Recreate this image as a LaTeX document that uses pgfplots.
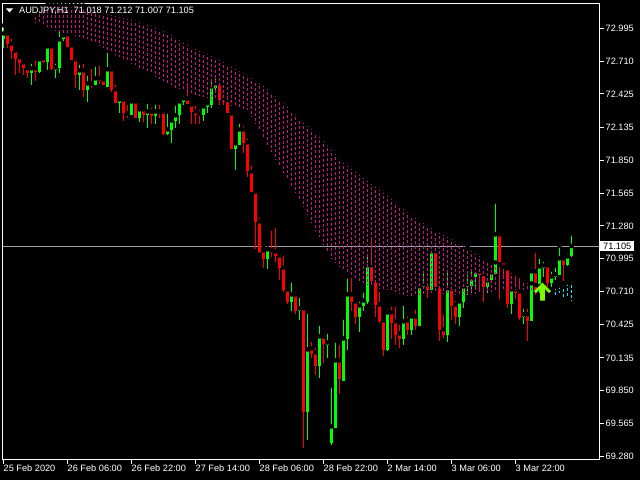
\documentclass[border=0pt]{standalone}
\usepackage{pgfplots}
\usepackage{pgfplotstable}
\pgfplotsset{compat=1.18}
\usepackage{fontspec}
\setmainfont{Liberation Sans}
\definecolor{mtgreen}{RGB}{0,255,0}
\definecolor{mtred}{RGB}{255,0,0}
\definecolor{kumo}{RGB}{199,21,133}
\definecolor{kumoup}{RGB}{0,230,255}
\definecolor{arrowgreen}{RGB}{124,252,0}
\definecolor{pricegray}{RGB}{160,160,170}

\pgfdeclareplotmark{mtarrow}{%
  \pgfpathmoveto{\pgfpoint{0bp}{9bp}}%
  \pgfpathlineto{\pgfpoint{8.5bp}{0.5bp}}%
  \pgfpathlineto{\pgfpoint{6.5bp}{-1.5bp}}%
  \pgfpathlineto{\pgfpoint{2.3bp}{2.7bp}}%
  \pgfpathlineto{\pgfpoint{2.3bp}{-9bp}}%
  \pgfpathlineto{\pgfpoint{-2.3bp}{-9bp}}%
  \pgfpathlineto{\pgfpoint{-2.3bp}{2.7bp}}%
  \pgfpathlineto{\pgfpoint{-6.5bp}{-1.5bp}}%
  \pgfpathlineto{\pgfpoint{-8.5bp}{0.5bp}}%
  \pgfpathclose
  \pgfusepathqfill
}

\pgfplotstableread{
k o h l c
0 72.897 73.019 72.819 72.949
1 72.949 72.975 72.819 72.862
2 72.862 72.923 72.724 72.793
3 72.802 72.827 72.585 72.724
4 72.741 72.776 72.602 72.689
5 72.698 72.698 72.585 72.646
6 72.646 72.654 72.567 72.602
7 72.602 72.706 72.506 72.646
8 72.646 72.733 72.541 72.611
9 72.611 72.750 72.602 72.724
10 72.733 72.741 72.689 72.698
11 72.698 72.853 72.628 72.836
12 72.836 72.845 72.628 72.637
13 72.628 72.706 72.559 72.654
14 72.646 72.984 72.602 72.897
15 72.897 72.975 72.888 72.932
16 72.940 72.958 72.836 72.836
17 72.845 72.853 72.715 72.715
18 72.724 72.741 72.472 72.593
19 72.585 72.698 72.455 72.628
20 72.628 72.706 72.394 72.463
21 72.463 72.602 72.359 72.515
22 72.515 72.663 72.480 72.498
23 72.498 72.680 72.498 72.559
24 72.559 72.689 72.515 72.541
25 72.550 72.585 72.498 72.498
26 72.489 72.802 72.489 72.637
27 72.637 72.663 72.438 72.455
28 72.463 72.524 72.342 72.342
29 72.342 72.394 72.255 72.377
30 72.377 72.412 72.194 72.255
31 72.255 72.351 72.212 72.238
32 72.238 72.385 72.238 72.359
33 72.359 72.368 72.212 72.212
34 72.220 72.299 72.177 72.290
35 72.290 72.325 72.177 72.246
36 72.246 72.359 72.125 72.272
37 72.272 72.325 72.168 72.229
38 72.229 72.351 72.168 72.272
39 72.272 72.351 72.220 72.264
40 72.272 72.281 72.065 72.073
41 72.073 72.272 72.065 72.116
42 72.108 72.212 71.995 72.194
43 72.186 72.342 72.125 72.238
44 72.238 72.385 72.168 72.359
45 72.351 72.429 72.325 72.385
46 72.385 72.515 72.333 72.333
47 72.333 72.342 72.168 72.264
48 72.272 72.342 72.168 72.246
49 72.255 72.307 72.160 72.238
50 72.238 72.342 72.194 72.316
51 72.307 72.368 72.255 72.342
52 72.325 72.567 72.299 72.489
53 72.480 72.576 72.455 72.515
54 72.515 72.559 72.325 72.368
55 72.377 72.438 72.325 72.351
56 72.368 72.429 72.255 72.255
57 72.255 72.290 71.951 71.951
58 71.943 71.995 71.761 71.995
59 71.978 72.186 71.978 72.116
60 72.116 72.168 71.908 71.995
61 72.004 72.056 71.700 71.752
62 71.752 71.821 71.570 71.570
63 71.578 71.613 71.084 71.310
64 71.318 71.370 71.041 71.050
65 71.067 71.093 70.911 70.989
66 70.989 71.084 70.902 71.076
67 71.067 71.258 71.006 71.041
68 71.058 71.284 70.963 71.015
69 71.024 71.024 70.807 70.919
70 70.919 71.041 70.703 70.720
71 70.729 70.763 70.607 70.616
72 70.624 70.807 70.538 70.685
73 70.685 70.729 70.520 70.546
74 70.546 70.677 70.460 70.564
75 70.564 70.572 69.358 69.670
76 69.670 70.538 69.427 70.208
77 70.217 70.295 70.130 70.173
78 70.182 70.243 69.983 70.061
79 70.061 70.433 69.957 70.321
80 70.321 70.364 70.095 70.260
81 70.251 70.364 70.130 70.269
82 69.393 69.896 69.384 69.540
83 69.531 70.286 69.531 70.113
84 70.113 70.269 69.826 69.948
85 69.939 70.486 69.939 70.303
86 70.295 70.841 70.208 70.685
87 70.685 70.850 70.546 70.616
88 70.624 70.650 70.433 70.486
89 70.486 70.642 70.364 70.590
90 70.581 70.720 70.546 70.633
91 70.624 71.041 70.607 70.937
92 70.937 71.188 70.789 70.798
93 70.807 70.867 70.486 70.598
94 70.598 70.729 70.442 70.451
95 70.460 70.494 70.156 70.208
96 70.208 70.572 70.199 70.529
97 70.529 70.598 70.295 70.442
98 70.451 70.598 70.243 70.338
99 70.347 70.442 70.217 70.303
100 70.303 70.607 70.243 70.451
101 70.460 70.512 70.338 70.373
102 70.373 70.512 70.330 70.494
103 70.494 70.572 70.373 70.416
104 70.416 70.763 70.416 70.754
105 70.746 70.911 70.746 70.772
106 70.772 70.781 70.659 70.720
107 70.720 71.067 70.720 71.058
108 71.058 71.067 70.746 70.754
109 70.754 70.772 70.278 70.373
110 70.382 70.529 70.312 70.330
111 70.330 70.893 70.269 70.737
112 70.737 70.781 70.468 70.581
113 70.598 70.650 70.425 70.486
114 70.486 70.633 70.416 70.624
115 70.616 70.798 70.564 70.754
116 70.746 70.876 70.677 70.772
117 70.763 70.919 70.694 70.824
118 70.833 70.911 70.737 70.885
119 70.885 70.911 70.703 70.850
120 70.859 70.902 70.624 70.754
121 70.746 70.824 70.694 70.807
122 70.807 70.919 70.781 70.876
123 70.867 71.492 70.867 71.206
124 71.206 71.223 70.650 70.963
125 70.972 70.998 70.824 70.919
126 70.928 70.954 70.564 70.607
127 70.607 70.737 70.520 70.729
128 70.729 70.859 70.642 70.694
129 70.711 70.859 70.460 70.477
130 70.486 70.581 70.433 70.512
131 70.512 70.581 70.286 70.451
132 70.451 70.928 70.451 70.885
133 70.885 71.067 70.677 70.720
134 70.720 71.015 70.694 70.928
135 70.919 70.989 70.833 70.937
136 70.937 70.954 70.746 70.781
137 70.781 70.902 70.754 70.841
138 70.833 70.937 70.807 70.859
139 70.850 71.110 70.850 70.998
140 70.998 70.998 70.798 70.945
141 70.945 71.058 70.928 71.015
142 71.018 71.212 71.007 71.105
}\candles

\pgfplotstableread{
k t b
8 73.131 73.044
9 73.157 73.030
10 73.183 73.015
11 73.200 73.001
12 73.199 72.987
13 73.198 72.972
14 73.197 72.958
15 73.196 72.951
16 73.196 72.943
17 73.195 72.936
18 73.194 72.929
19 73.193 72.921
20 73.192 72.914
21 73.181 72.897
22 73.171 72.880
23 73.160 72.862
24 73.149 72.845
25 73.141 72.826
26 73.133 72.807
27 73.126 72.787
28 73.118 72.768
29 73.110 72.749
30 73.102 72.730
31 73.095 72.711
32 73.087 72.691
33 73.079 72.672
34 73.066 72.653
35 73.053 72.634
36 73.040 72.614
37 73.027 72.595
38 73.014 72.576
39 73.001 72.557
40 72.988 72.538
41 72.975 72.518
42 72.953 72.499
43 72.932 72.480
44 72.910 72.467
45 72.888 72.455
46 72.867 72.442
47 72.845 72.429
48 72.831 72.419
49 72.816 72.409
50 72.802 72.398
51 72.787 72.388
52 72.773 72.378
53 72.758 72.368
54 72.738 72.359
55 72.718 72.351
56 72.698 72.342
57 72.679 72.330
58 72.660 72.318
59 72.640 72.305
60 72.621 72.293
61 72.602 72.281
62 72.580 72.223
63 72.559 72.164
64 72.537 72.106
65 72.515 72.047
66 72.485 71.982
67 72.455 71.917
68 72.424 71.852
69 72.394 71.787
70 72.362 71.735
71 72.331 71.682
72 72.299 71.630
73 72.264 71.567
74 72.229 71.503
75 72.194 71.440
76 72.165 71.373
77 72.137 71.307
78 72.108 71.240
79 72.071 71.180
80 72.034 71.119
81 71.997 71.059
82 71.960 70.998
83 71.922 70.963
84 71.885 70.928
85 71.847 70.893
86 71.821 70.871
87 71.795 70.848
88 71.769 70.826
89 71.743 70.803
90 71.717 70.781
91 71.691 70.771
92 71.665 70.761
93 71.639 70.750
94 71.613 70.740
95 71.587 70.730
96 71.561 70.720
97 71.532 70.711
98 71.503 70.703
99 71.475 70.694
100 71.446 70.685
101 71.417 70.677
102 71.388 70.668
103 71.366 70.674
104 71.345 70.680
105 71.323 70.686
106 71.301 70.691
107 71.280 70.697
108 71.258 70.703
109 71.239 70.699
110 71.220 70.694
111 71.202 70.690
112 71.183 70.686
113 71.164 70.681
114 71.145 70.677
115 71.123 70.680
116 71.102 70.683
117 71.080 70.686
118 71.058 70.688
119 71.037 70.691
120 71.015 70.694
121 70.998 70.701
122 70.980 70.708
123 70.963 70.716
124 70.946 70.723
125 70.928 70.730
126 70.911 70.737
127 70.889 70.734
128 70.867 70.731
129 70.846 70.729
130 70.824 70.726
131 70.802 70.723
132 70.781 70.720
133 70.769 70.723
134 70.758 70.726
135 70.746 70.729
}\kumodown

\pgfplotstableread{
k t b
138 70.754 70.677
139 70.763 70.694
140 70.772 70.659
141 70.789 70.659
142 70.807 70.633
}\kumoupt

\begin{document}
\begin{tikzpicture}
\fill[black] (0,0) rectangle (640bp,480bp);
\begin{axis}[
  at={(2.5bp,20.5bp)}, anchor=south west,
  scale only axis, width=597bp, height=456bp,
  xmin=-0.25, xmax=149, ymin=69.254, ymax=73.209,
  axis background/.style={fill=black},
  axis line style={white, line width=1bp},
  clip mode=individual,
  tick style={white, line width=1bp},
  tick align=outside,
  major tick length=4bp,
  xtick pos=left, ytick pos=right,
  yticklabel pos=right,
  xtick={0,16,32,48,64,80,96,112,128},
  xticklabels={25 Feb 2020,26 Feb 06:00,26 Feb 22:00,27 Feb 14:00,28 Feb 06:00,28 Feb 22:00,2 Mar 14:00,3 Mar 06:00,3 Mar 22:00},
  ytick={69.280,69.565,69.850,70.135,70.425,70.710,70.995,71.280,71.565,71.850,72.135,72.425,72.710,72.995},
  scaled y ticks=false,
  ticklabel style={text=white, font=\fontsize{9.2bp}{11bp}\selectfont, inner sep=0pt},
  xticklabel style={anchor=north west, yshift=-1bp, xshift=0bp},
  yticklabel style={anchor=west, xshift=2bp, /pgf/number format/fixed, /pgf/number format/fixed zerofill, /pgf/number format/precision=3, /pgf/number format/assume math mode=true},
]
% current price line
\addplot[pricegray, line width=1bp] coordinates {(-0.25,71.105) (149,71.105)};
% wicks
\addplot[only marks, mark=none, restrict expr to domain={\thisrow{c}-\thisrow{o}}{0:100},
  error bars/.cd, y dir=minus, y explicit, error mark=none, error bar style={draw=mtgreen, line width=1bp}]
  table[x=k, y=h, y error expr=\thisrow{h}-\thisrow{l}] {\candles};
\addplot[only marks, mark=none, restrict expr to domain={\thisrow{c}-\thisrow{o}}{-100:-0.0005},
  error bars/.cd, y dir=minus, y explicit, error mark=none, error bar style={draw=mtred, line width=1bp}]
  table[x=k, y=h, y error expr=\thisrow{h}-\thisrow{l}] {\candles};
% bodies
\addplot[only marks, mark=none, restrict expr to domain={\thisrow{c}-\thisrow{o}}{0:100},
  error bars/.cd, y dir=minus, y explicit, error mark=none, error bar style={draw=mtgreen, line width=3bp}]
  table[x=k, y=c, y error expr={max(\thisrow{c}-\thisrow{o},0.009)}] {\candles};
\addplot[only marks, mark=none, restrict expr to domain={\thisrow{c}-\thisrow{o}}{-100:-0.0005},
  error bars/.cd, y dir=minus, y explicit, error mark=none, error bar style={draw=mtred, line width=3bp}]
  table[x=k, y=o, y error expr={max(\thisrow{o}-\thisrow{c},0.009)}] {\candles};
% cloud
\addplot[only marks, mark=none,
  error bars/.cd, y dir=minus, y explicit, error mark=none, error bar style={draw=kumo, line width=1bp, dash pattern=on 3bp off 2bp}]
  table[x=k, y=t, y error expr=\thisrow{t}-\thisrow{b}] {\kumodown};
\addplot[only marks, mark=none,
  error bars/.cd, y dir=minus, y explicit, error mark=none, error bar style={draw=kumoup, line width=1bp, dash pattern=on 3bp off 2bp}]
  table[x=k, y=t, y error expr=\thisrow{t}-\thisrow{b}] {\kumoupt};
% signal arrow
\addplot[only marks, mark=mtarrow, color=arrowgreen, mark options={fill=arrowgreen, draw=none}]
  coordinates {(134.75,70.711)};
\coordinate (pl) at (axis cs:149,71.105);
\end{axis}
\node[fill=white, text=black, anchor=west, inner xsep=3bp, inner ysep=1.5bp, font=\fontsize{9.2bp}{11bp}\selectfont] at ([xshift=0.5bp]pl) {71.105};
\fill[white] (6bp,471.5bp) -- (13bp,471.5bp) -- (9.5bp,467.5bp) -- cycle;
\node[anchor=west, text=white, inner sep=0pt, font=\fontsize{9.2bp}{11bp}\selectfont] at (19bp,469.5bp) {AUDJPY,H1\ \ 71.018 71.212 71.007 71.105};
\pgfresetboundingbox
\useasboundingbox (0,0) rectangle (640bp,480bp);
\end{tikzpicture}
\end{document}
